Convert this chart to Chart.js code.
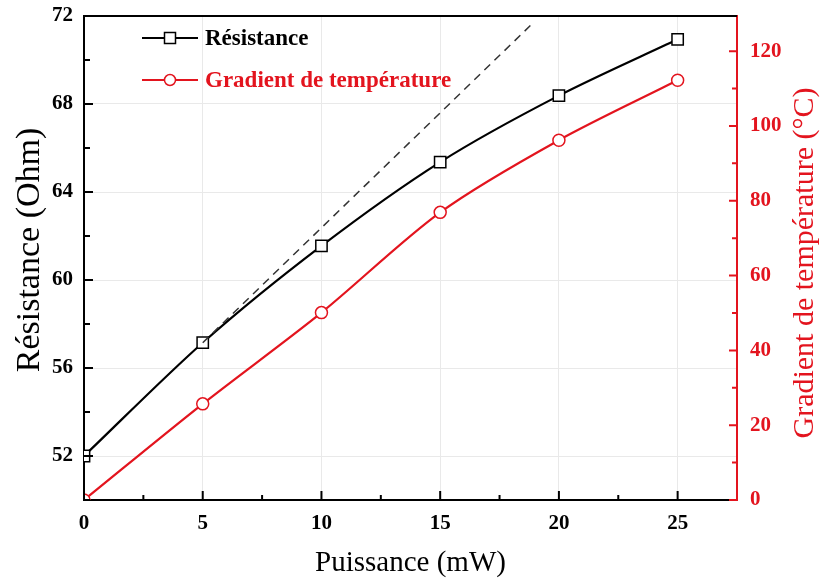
<!DOCTYPE html>
<html>
<head>
<meta charset="utf-8">
<script src="https://cdn.jsdelivr.net/npm/chart.js@4"></script>
<style>
  html, body { margin: 0; padding: 0; background: #ffffff; }
  #wrap { width: 828px; height: 583px; position: relative; }
</style>
</head>
<body>
<div id="wrap"><canvas id="c" width="828" height="583"></canvas></div>
<script>
// ---- data ----
const puissance = [0, 5, 10, 15, 20, 25];
const resistance = [52.0, 57.15, 61.55, 65.36, 68.38, 70.94];
const temperature = [0, 25.7, 50.1, 76.9, 96.2, 112.2];
const tangentX = [5, 18.87];
const tangentY = [57.15, 71.64];
const xTicks = [0, 5, 10, 15, 20, 25];
const yLeftTicks = [52, 56, 60, 64, 68, 72];
const yRightTicks = [0, 20, 40, 60, 80, 100, 120];
const seriesNames = ['Résistance', 'Gradient de température'];
const xTitle = 'Puissance (mW)';
const yLeftTitle = 'Résistance (Ohm)';
const yRightTitle = 'Gradient de température (°C)';

const RED = '#e3141e';
const SERIF = '"Liberation Serif", "Times New Roman", serif';

function minorsOf(arr) {
  const out = [];
  for (let i = 0; i < arr.length - 1; i++) out.push((arr[i] + arr[i + 1]) / 2);
  return out;
}

const tickPlugin = {
  id: 'inwardTicks',
  afterDraw(chart) {
    const ctx = chart.ctx;
    const ca = chart.chartArea;
    const sx = chart.scales.x, sl = chart.scales.y, sr = chart.scales.y2;
    ctx.save();
    // top frame
    ctx.strokeStyle = '#000';
    ctx.lineWidth = 2;
    ctx.beginPath();
    ctx.moveTo(ca.left - 1, ca.top);
    ctx.lineTo(ca.right, ca.top);
    ctx.stroke();
    // bottom ticks
    ctx.lineWidth = 2;
    ctx.beginPath();
    xTicks.forEach(v => { const p = sx.getPixelForValue(v); ctx.moveTo(p, ca.bottom); ctx.lineTo(p, ca.bottom - 9); });
    minorsOf(xTicks).concat([27.5]).forEach(v => { if (v <= sx.max - 0.01) { const p = sx.getPixelForValue(v); ctx.moveTo(p, ca.bottom); ctx.lineTo(p, ca.bottom - 5); } });
    ctx.stroke();
    // left ticks
    ctx.beginPath();
    yLeftTicks.forEach(v => { const p = sl.getPixelForValue(v); ctx.moveTo(ca.left, p); ctx.lineTo(ca.left + 9, p); });
    minorsOf(yLeftTicks).concat([yLeftTicks[0] - 2]).forEach(v => { const p = sl.getPixelForValue(v); ctx.moveTo(ca.left, p); ctx.lineTo(ca.left + 6, p); });
    ctx.stroke();
    // right ticks
    ctx.strokeStyle = RED;
    ctx.beginPath();
    yRightTicks.forEach(v => { const p = sr.getPixelForValue(v); ctx.moveTo(ca.right, p); ctx.lineTo(ca.right - 8, p); });
    minorsOf(yRightTicks).forEach(v => { const p = sr.getPixelForValue(v); ctx.moveTo(ca.right, p); ctx.lineTo(ca.right - 5, p); });
    ctx.stroke();
    ctx.restore();

    // left title (reads bottom to top)
    ctx.save();
    ctx.fillStyle = '#000';
    ctx.font = '34px ' + SERIF;
    ctx.textAlign = 'center';
    ctx.textBaseline = 'middle';
    ctx.translate(30, 250);
    ctx.rotate(-Math.PI / 2);
    ctx.fillText(yLeftTitle, 0, 0);
    ctx.restore();

    // right title (reads bottom to top)
    ctx.save();
    ctx.fillStyle = RED;
    ctx.font = '30px ' + SERIF;
    ctx.textAlign = 'center';
    ctx.textBaseline = 'middle';
    ctx.translate(805, 263);
    ctx.rotate(-Math.PI / 2);
    ctx.fillText(yRightTitle, 0, 0);
    ctx.restore();

    // legend
    ctx.save();
    const lx0 = ca.left + 58, lx1 = ca.left + 114, mx = ca.left + 86, tx = ca.left + 121;
    const rows = [
      { y: ca.top + 22, color: '#000', style: 'rect', name: seriesNames[0] },
      { y: ca.top + 64, color: RED, style: 'circle', name: seriesNames[1] }
    ];
    rows.forEach(r => {
      ctx.strokeStyle = r.color;
      ctx.lineWidth = 2;
      ctx.beginPath(); ctx.moveTo(lx0, r.y); ctx.lineTo(lx1, r.y); ctx.stroke();
      ctx.fillStyle = '#fff';
      ctx.lineWidth = 1.5;
      ctx.beginPath();
      if (r.style === 'rect') { ctx.rect(mx - 5.5, r.y - 5.5, 11, 11); }
      else { ctx.arc(mx, r.y, 5.5, 0, Math.PI * 2); }
      ctx.fill(); ctx.stroke();
      ctx.fillStyle = r.color;
      ctx.font = 'bold 23px ' + SERIF;
      ctx.textAlign = 'left';
      ctx.textBaseline = 'middle';
      ctx.fillText(r.name, tx, r.y + 1);
    });
    ctx.restore();
  }
};

const noPad = s => { s.paddingTop = 0; s.paddingBottom = 0; s.paddingLeft = 0; s.paddingRight = 0; };

new Chart(document.getElementById('c'), {
  type: 'line',
  data: {
    datasets: [
      {
        label: 'tangente',
        data: tangentX.map((x, i) => ({ x, y: tangentY[i] })),
        yAxisID: 'y',
        borderColor: '#333',
        borderWidth: 1.5,
        borderDash: [8, 6],
        pointRadius: 0,
        fill: false,
        tension: 0
      },
      {
        label: seriesNames[0],
        data: puissance.map((x, i) => ({ x, y: resistance[i] })),
        yAxisID: 'y',
        borderColor: '#000',
        borderWidth: 2.2,
        backgroundColor: '#fff',
        pointStyle: 'rect',
        pointRadius: 8,
        pointBorderWidth: 1.5,
        pointBackgroundColor: '#fff',
        pointBorderColor: '#000',
        tension: 0.3,
        fill: false
      },
      {
        label: seriesNames[1],
        data: puissance.map((x, i) => ({ x, y: temperature[i] })),
        yAxisID: 'y2',
        borderColor: RED,
        borderWidth: 2.2,
        backgroundColor: '#fff',
        pointStyle: 'circle',
        pointRadius: 6,
        pointBorderWidth: 1.5,
        pointBackgroundColor: '#fff',
        pointBorderColor: RED,
        tension: 0.3,
        fill: false
      }
    ]
  },
  options: {
    responsive: false,
    animation: false,
    events: [],
    layout: { padding: { top: 16, left: 0, right: 0, bottom: 0 } },
    plugins: { legend: { display: false }, tooltip: { enabled: false } },
    scales: {
      x: {
        type: 'linear',
        min: 0,
        max: 27.5,
        afterBuildTicks: s => { s.ticks = xTicks.map(v => ({ value: v })); },
        afterFit: s => { s.height = 83; noPad(s); },
        border: { display: true, color: '#000', width: 2 },
        grid: { color: '#e9e9e9', lineWidth: 1, drawTicks: false },
        ticks: { color: '#000', padding: 11, font: { family: SERIF, size: 21, weight: 'bold' } },
        title: { display: true, text: xTitle, color: '#000', padding: { top: 0, bottom: 2 }, font: { family: SERIF, size: 29 } }
      },
      y: {
        type: 'linear',
        position: 'left',
        min: 50,
        max: 72,
        afterBuildTicks: s => { s.ticks = yLeftTicks.map(v => ({ value: v })); },
        afterFit: s => { s.width = 84; noPad(s); },
        border: { display: true, color: '#000', width: 2 },
        grid: { color: '#e9e9e9', lineWidth: 1, drawTicks: false },
        ticks: { color: '#000', padding: 11, font: { family: SERIF, size: 21, weight: 'bold' } }
      },
      y2: {
        type: 'linear',
        position: 'right',
        min: 0,
        max: 129.4,
        afterBuildTicks: s => { s.ticks = yRightTicks.map(v => ({ value: v })); },
        afterFit: s => { s.width = 91; noPad(s); },
        border: { display: true, color: RED, width: 2 },
        grid: { drawOnChartArea: false, drawTicks: false },
        ticks: { color: RED, padding: 13, font: { family: SERIF, size: 21, weight: 'bold' } }
      }
    }
  },
  plugins: [tickPlugin]
});
</script>
</body>
</html>
